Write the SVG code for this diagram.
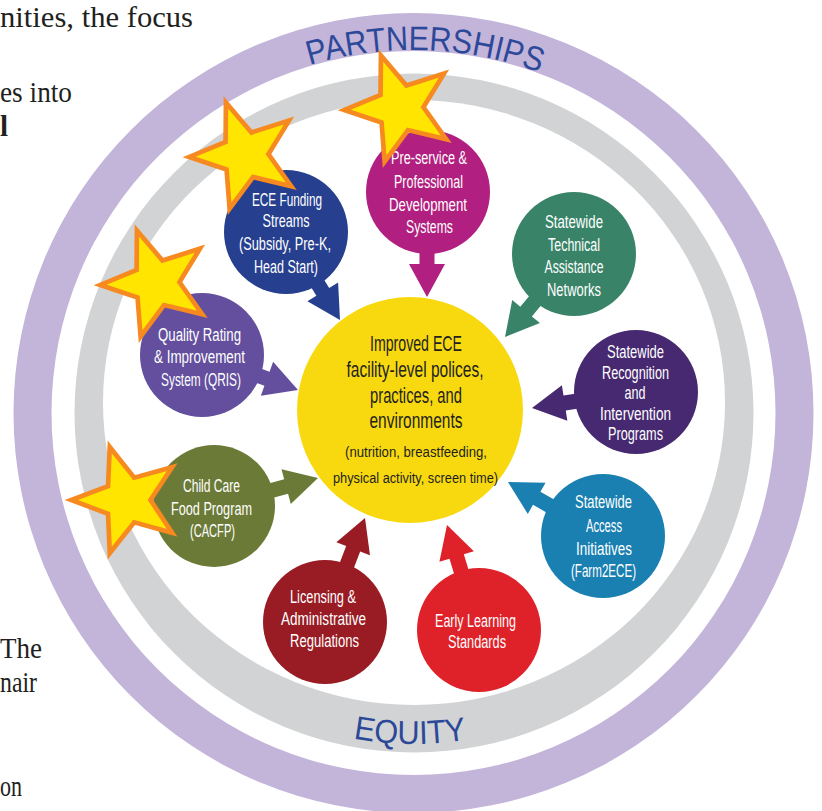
<svg xmlns="http://www.w3.org/2000/svg" width="822" height="811" viewBox="0 0 822 811">
<style>
.body{font-family:"Liberation Serif","Times New Roman",serif;font-size:29px;fill:#231F20}
.lbl{font-family:"Liberation Sans Narrow","Liberation Sans",sans-serif;font-size:17.5px;fill:#FFFFFF;text-anchor:middle}
.core{font-family:"Liberation Sans Narrow","Liberation Sans",sans-serif;font-size:22.5px;fill:#231F20;text-anchor:middle}
.core-sm{font-size:15.5px}
.ring-txt{font-family:"Liberation Sans",Arial,sans-serif;fill:#2C4899}
.star{fill:#FFE500;stroke:#F6891F;stroke-width:5;stroke-linejoin:miter;stroke-miterlimit:12}
</style>
<defs>
<!-- arrow pointing along +x, tip at the origin -->
<path id="arrow" d="M0,0 L-33,-18 L-33,-7.5 L-118,-7.5 L-118,7.5 L-33,7.5 L-33,18 Z"/>
<polygon id="star" points="0,-60 14.81,-20.39 57.06,-18.54 23.97,7.79 35.27,48.54 0,25.2 -35.27,48.54 -23.97,7.79 -57.06,-18.54 -14.81,-20.39"/>
<path id="arcTop" d="M180.2,134.9 A363,363 0 0 1 646.8,134.9"/>
<path id="arcBottom" d="M248,699.6 A331,331 0 0 0 579,699.6"/>
</defs>

<rect width="822" height="811" fill="#FFFFFF"/>

<!-- outer rings -->
<g id="rings">
<circle cx="413.5" cy="413" r="400" fill="#C3B4D9"/>
<circle cx="413.5" cy="413" r="362" fill="#FFFFFF"/>
<circle cx="414" cy="413" r="339.5" fill="#D1D3D4"/>
<ellipse cx="414" cy="402.5" rx="311" ry="302.5" fill="#FFFFFF"/>
</g>

<g id="ring-labels">
<text class="ring-txt" font-size="34"><textPath href="#arcTop" startOffset="52.3%" text-anchor="middle" textLength="234" lengthAdjust="spacingAndGlyphs">PARTNERSHIPS</textPath></text>
<text class="ring-txt" font-size="33"><textPath href="#arcBottom" startOffset="49%" text-anchor="middle" textLength="114" lengthAdjust="spacingAndGlyphs">EQUITY</textPath></text>
</g>

<!-- central outcome -->
<g id="outcome">
<circle cx="410" cy="410" r="113" fill="#F8D90F"/>
<text class="core" x="416" y="351" textLength="92" lengthAdjust="spacingAndGlyphs">Improved ECE</text>
<text class="core" x="415" y="377" textLength="137" lengthAdjust="spacingAndGlyphs">facility-level polices,</text>
<text class="core" x="416" y="403" textLength="92" lengthAdjust="spacingAndGlyphs">practices, and</text>
<text class="core" x="416" y="428" textLength="93" lengthAdjust="spacingAndGlyphs">environments</text>
<text class="core core-sm" x="416" y="457" textLength="142" lengthAdjust="spacingAndGlyphs">(nutrition, breastfeeding,</text>
<text class="core core-sm" x="415.5" y="483" textLength="165" lengthAdjust="spacingAndGlyphs">physical activity, screen time)</text>
</g>

<!-- arrows into the central outcome -->
<g id="connectors">
<use href="#arrow" fill="#26408F" transform="translate(340,320) rotate(58.5)"/>
<use href="#arrow" fill="#B11F80" transform="translate(427,297) rotate(90)"/>
<use href="#arrow" fill="#398468" transform="translate(505,337) rotate(129.7)"/>
<use href="#arrow" fill="#472971" transform="translate(532,408) rotate(171.3)"/>
<use href="#arrow" fill="#1A80B1" transform="translate(508,482) rotate(209.6)"/>
<use href="#arrow" fill="#DF2129" transform="translate(447,525) rotate(253)"/>
<use href="#arrow" fill="#991C24" transform="translate(365,518) rotate(291)"/>
<use href="#arrow" fill="#6B7B37" transform="translate(318,478) rotate(345)"/>
<use href="#arrow" fill="#634F9E" transform="translate(298,390) rotate(20)"/>
</g>

<g id="funding">
<circle cx="286" cy="232" r="62" fill="#26408F"/>
<text class="lbl" x="287" y="206" textLength="70" lengthAdjust="spacingAndGlyphs">ECE Funding</text>
<text class="lbl" x="286" y="227" textLength="47" lengthAdjust="spacingAndGlyphs">Streams</text>
<text class="lbl" x="285" y="250" textLength="92" lengthAdjust="spacingAndGlyphs">(Subsidy, Pre-K,</text>
<text class="lbl" x="286" y="273" textLength="64" lengthAdjust="spacingAndGlyphs">Head Start)</text>
</g>

<g id="preservice">
<circle cx="428" cy="192" r="62" fill="#B11F80"/>
<text class="lbl" x="429" y="164" textLength="76" lengthAdjust="spacingAndGlyphs">Pre-service &amp;</text>
<text class="lbl" x="428.5" y="188" textLength="69" lengthAdjust="spacingAndGlyphs">Professional</text>
<text class="lbl" x="428" y="211" textLength="78" lengthAdjust="spacingAndGlyphs">Development</text>
<text class="lbl" x="429.5" y="233" textLength="47" lengthAdjust="spacingAndGlyphs">Systems</text>
</g>

<g id="technical-assistance">
<circle cx="574" cy="254" r="62" fill="#398468"/>
<text class="lbl" x="574" y="228" textLength="58" lengthAdjust="spacingAndGlyphs">Statewide</text>
<text class="lbl" x="574" y="251" textLength="52" lengthAdjust="spacingAndGlyphs">Technical</text>
<text class="lbl" x="574" y="273" textLength="59" lengthAdjust="spacingAndGlyphs">Assistance</text>
<text class="lbl" x="574" y="296" textLength="54" lengthAdjust="spacingAndGlyphs">Networks</text>
</g>

<g id="recognition">
<circle cx="636" cy="392" r="62" fill="#472971"/>
<text class="lbl" x="635.5" y="358" textLength="57" lengthAdjust="spacingAndGlyphs">Statewide</text>
<text class="lbl" x="635.5" y="379" textLength="67" lengthAdjust="spacingAndGlyphs">Recognition</text>
<text class="lbl" x="635" y="399" textLength="21" lengthAdjust="spacingAndGlyphs">and</text>
<text class="lbl" x="635.5" y="420" textLength="71" lengthAdjust="spacingAndGlyphs">Intervention</text>
<text class="lbl" x="635.5" y="440" textLength="55" lengthAdjust="spacingAndGlyphs">Programs</text>
</g>

<g id="access">
<circle cx="603" cy="536" r="62" fill="#1A80B1"/>
<text class="lbl" x="603.5" y="508" textLength="57" lengthAdjust="spacingAndGlyphs">Statewide</text>
<text class="lbl" x="604" y="532" textLength="36" lengthAdjust="spacingAndGlyphs">Access</text>
<text class="lbl" x="604" y="555" textLength="56" lengthAdjust="spacingAndGlyphs">Initiatives</text>
<text class="lbl" x="603.5" y="577" textLength="65" lengthAdjust="spacingAndGlyphs">(Farm2ECE)</text>
</g>

<g id="learning-standards">
<circle cx="479" cy="630" r="62" fill="#DF2129"/>
<text class="lbl" x="475.5" y="627" textLength="81" lengthAdjust="spacingAndGlyphs">Early Learning</text>
<text class="lbl" x="477" y="648" textLength="58" lengthAdjust="spacingAndGlyphs">Standards</text>
</g>

<g id="licensing">
<circle cx="325" cy="622" r="62" fill="#991C24"/>
<text class="lbl" x="323" y="603" textLength="66" lengthAdjust="spacingAndGlyphs">Licensing &amp;</text>
<text class="lbl" x="323.5" y="625" textLength="85" lengthAdjust="spacingAndGlyphs">Administrative</text>
<text class="lbl" x="324.5" y="647" textLength="69" lengthAdjust="spacingAndGlyphs">Regulations</text>
</g>

<g id="cacfp">
<circle cx="214" cy="506" r="61" fill="#6B7B37"/>
<text class="lbl" x="211.5" y="492" textLength="57" lengthAdjust="spacingAndGlyphs">Child Care</text>
<text class="lbl" x="211.5" y="515" textLength="81" lengthAdjust="spacingAndGlyphs">Food Program</text>
<text class="lbl" x="212.5" y="537" textLength="45" lengthAdjust="spacingAndGlyphs">(CACFP)</text>
</g>

<g id="qris">
<circle cx="202" cy="355" r="62" fill="#634F9E"/>
<text class="lbl" x="199.5" y="341" textLength="83" lengthAdjust="spacingAndGlyphs">Quality Rating</text>
<text class="lbl" x="199.5" y="363" textLength="91" lengthAdjust="spacingAndGlyphs">&amp; Improvement</text>
<text class="lbl" x="201" y="386" textLength="80" lengthAdjust="spacingAndGlyphs">System (QRIS)</text>
</g>

<!-- highlight stars -->
<g id="stars">
<use href="#star" class="star" transform="translate(245,155) rotate(-20) scale(0.93)"/>
<use href="#star" class="star" transform="translate(400,108) rotate(-20) scale(0.93)"/>
<use href="#star" class="star" transform="translate(156,283) rotate(-20) scale(0.93)"/>
<use href="#star" class="star" transform="translate(127,500) rotate(-18) scale(0.93)"/>
</g>

<!-- surrounding page text -->
<g id="page-text">
<text class="body" x="0" y="27" textLength="193" lengthAdjust="spacingAndGlyphs">nities, the focus</text>
<text class="body" x="0" y="102" textLength="72" lengthAdjust="spacingAndGlyphs">es into</text>
<text class="body" x="0" y="136" font-weight="bold">l</text>
<text class="body" x="0" y="658" textLength="42" lengthAdjust="spacingAndGlyphs">The</text>
<text class="body" x="0" y="692" textLength="37" lengthAdjust="spacingAndGlyphs">nair</text>
<text class="body" x="0" y="796" textLength="22" lengthAdjust="spacingAndGlyphs">on</text>
</g>
</svg>
